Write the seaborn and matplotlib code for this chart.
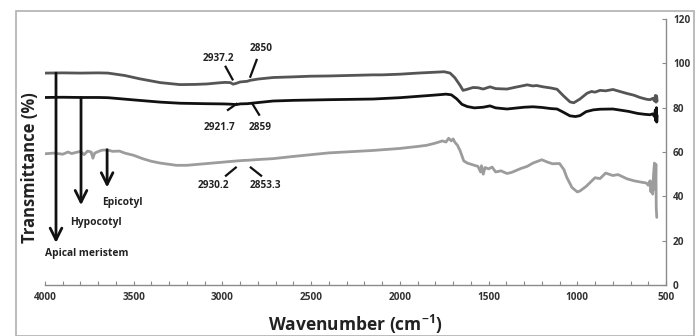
import matplotlib
matplotlib.use("Agg")
import matplotlib.pyplot as plt
import seaborn as sns
import pandas as pd
from matplotlib.patches import Rectangle

# ---------------- data ----------------
apical_wn = [4000, 3900, 3800, 3700, 3645, 3550, 3465, 3350, 3239, 3150, 3087, 3020, 2986, 2955,
             2940, 2925, 2900, 2860, 2845, 2800, 2715, 2600, 2500, 2400, 2300, 2151, 2100, 2000,
             1900, 1800, 1750, 1717, 1690, 1660, 1644, 1620, 1588, 1560, 1530, 1492, 1460, 1396,
             1350, 1300, 1283, 1250, 1230, 1193, 1150, 1114, 1080, 1041, 1020, 985, 945, 920, 900,
             872, 840, 799, 760, 720, 680, 647, 610, 590, 575, 565, 560, 556, 553, 550]
apical_t = [95.6, 95.7, 95.6, 95.7, 95.6, 94.5, 93.0, 91.3, 90.4, 90.5, 90.7, 91.2, 91.4, 91.3,
            90.6, 90.9, 91.6, 91.9, 92.3, 92.9, 93.6, 93.9, 94.2, 94.3, 94.5, 94.8, 94.8, 95.1,
            95.6, 96.0, 96.2, 95.6, 93.5, 90.0, 87.8, 88.3, 89.1, 89.0, 88.4, 89.4, 88.6, 88.4,
            89.2, 90.0, 90.3, 89.8, 90.0, 89.4, 88.9, 88.3, 85.5, 82.6, 82.2, 83.9, 86.5, 87.3, 87.0,
            87.8, 87.6, 88.2, 87.3, 86.4, 85.6, 84.6, 83.8, 83.6, 84.2, 83.0, 85.5, 82.5, 85.3, 83.0]

hypo_wn = [4000, 3900, 3800, 3700, 3645, 3500, 3350, 3239, 3100, 3000, 2960, 2921, 2900, 2859,
           2800, 2715, 2600, 2400, 2151, 2000, 1900, 1800, 1740, 1710, 1680, 1650, 1620, 1580,
           1530, 1492, 1460, 1396, 1300, 1250, 1200, 1150, 1114, 1080, 1041, 1010, 985, 950, 910,
           872, 800, 750, 710, 660, 620, 590, 575, 565, 560, 557, 554, 552, 550]
hypo_t = [84.6, 84.7, 84.6, 84.6, 84.5, 83.5, 82.5, 82.0, 81.8, 81.7, 81.6, 81.4, 81.7, 81.8,
          82.3, 83.0, 83.3, 83.6, 83.9, 84.5, 85.1, 85.7, 86.1, 85.8, 84.0, 81.5, 80.5, 79.9,
          80.2, 80.8, 79.9, 79.4, 80.2, 80.4, 80.1, 79.6, 79.4, 78.0, 76.3, 76.0, 76.4, 78.2, 79.0,
          79.3, 79.4, 78.8, 78.3, 77.4, 77.0, 76.8, 77.2, 76.0, 79.0, 74.0, 80.0, 73.5, 76.5]

epi_wn = [4000, 3950, 3900, 3870, 3850, 3800, 3780, 3760, 3740, 3730, 3720, 3700, 3680, 3650,
          3620, 3580, 3550, 3500, 3450, 3400, 3350, 3260, 3200, 3100, 3000, 2930, 2880, 2850,
          2800, 2715, 2600, 2400, 2151, 2000, 1900, 1850, 1800, 1760, 1740, 1725, 1710, 1700,
          1690, 1675, 1660, 1640, 1620, 1588, 1560, 1545, 1540, 1530, 1520, 1500, 1480, 1460,
          1430, 1396, 1370, 1320, 1283, 1250, 1200, 1170, 1140, 1100, 1075, 1060, 1030, 1000,
          985, 950, 900, 872, 840, 800, 770, 720, 680, 640, 610, 600, 590, 585, 580, 575, 570,
          565, 560, 557, 555, 552]
epi_t = [59.2, 59.5, 59.0, 60.0, 59.3, 60.3, 58.8, 60.4, 60.0, 57.2, 59.5, 60.2, 60.8, 61.0,
         60.3, 60.4, 59.5, 58.5, 57.0, 55.8, 55.0, 54.0, 54.0, 54.7, 55.4, 55.9, 56.2, 56.3,
         56.6, 57.0, 58.0, 59.6, 60.7, 61.6, 62.5, 63.0, 64.0, 65.0, 64.5, 66.2, 65.0, 65.9,
         64.4, 63.0, 60.5, 56.0, 55.0, 54.2, 53.5, 51.0, 53.8, 50.0, 53.0, 52.4, 53.2, 51.0,
         51.5, 50.3, 50.8, 52.5, 53.5, 55.0, 56.5, 55.5, 54.7, 54.8, 52.0, 48.7, 44.0, 42.0,
         42.4, 44.5, 48.4, 48.0, 50.5, 49.4, 49.8, 47.9, 47.0, 46.4, 46.0, 45.0, 47.0, 42.0,
         46.5, 41.0, 50.0, 55.0, 43.0, 54.5, 35.0, 30.5]

x_ticks = [4000, 3500, 3000, 2500, 2000, 1500, 1000, 500]
y_ticks = [0, 20, 40, 60, 80, 100, 120]

# peak labels: (label, text_x, text_y, line x0, y0, x1, y1)
peaks = [
    ("2937.2", 3025, 102.0, 2985, 98.9, 2940, 92.3),
    ("2850",   2783, 106.5, 2805, 102.0, 2845, 93.5),
    ("2921.7", 3014, 71.0, 2974, 78.7, 2915, 82.0),
    ("2859",   2788, 71.0, 2833, 82.0, 2790, 76.4),
    ("2930.2", 3048, 45.0, 2985, 49.0, 2920, 53.3),
    ("2853.3", 2760, 45.0, 2845, 53.3, 2777, 49.0),
]
# tissue arrows: (label, x, y_start, y_end, label_x, label_y)
tissues = [
    ("Apical meristem", 3938, 95.6, 19.0, 4000, 14.4),
    ("Hypocotyl",       3797, 84.6, 36.0, 3859, 28.3),
    ("Epicotyl",        3650, 61.0, 44.0, 3679, 37.3),
]

df = pd.concat([
    pd.DataFrame({"wn": apical_wn, "T": apical_t, "s": "Apical meristem"}),
    pd.DataFrame({"wn": hypo_wn, "T": hypo_t, "s": "Hypocotyl"}),
    pd.DataFrame({"wn": epi_wn, "T": epi_t, "s": "Epicotyl"}),
])

# ---------------- plot ----------------
sns.set_theme(style="white")
plt.rcParams["font.family"] = ["Open Sans", "DejaVu Sans"]
plt.rcParams["mathtext.fontset"] = "custom"
plt.rcParams["mathtext.rm"] = "Open Sans"
plt.rcParams["mathtext.bf"] = "Open Sans:bold"

fig = plt.figure(figsize=(6.99, 3.36), dpi=100)
ax = fig.add_axes([45 / 699, 51 / 336, 621 / 699, 266 / 336])

palette = {"Apical meristem": "#555555", "Hypocotyl": "#111111", "Epicotyl": "#9c9c9c"}
sns.lineplot(data=df, x="wn", y="T", hue="s", palette=palette, ax=ax,
             sort=False, estimator=None, legend=False, linewidth=2.0)

ax.set_xlim(4000, 500)
ax.set_ylim(0, 120)
ax.set_xticks(x_ticks)
ax.set_xticklabels([str(v) for v in x_ticks])
ax.set_xticks(range(500, 4001, 100), minor=True)
ax.set_yticks(y_ticks)
ax.set_yticklabels([str(v) for v in y_ticks])
ax.yaxis.tick_right()

for sp in ["left", "top"]:
    ax.spines[sp].set_visible(False)
for sp in ["bottom", "right"]:
    ax.spines[sp].set_visible(True)
    ax.spines[sp].set_color("#8a8a8a")
    ax.spines[sp].set_linewidth(1.0)

ax.tick_params(axis="x", which="both", direction="in", length=3, width=0.8,
               color="#8a8a8a", bottom=True, labelsize=7.2, pad=5, labelcolor="#333333")
ax.tick_params(axis="y", which="both", direction="in", length=3, width=0.8,
               color="#8a8a8a", right=True, left=False, labelsize=7.2, pad=5,
               labelcolor="#333333")
for lbl in ax.get_xticklabels() + ax.get_yticklabels():
    lbl.set_fontweight("bold")

ax.set_xlabel("")
ax.set_ylabel("")
fig.text(355 / 699, 1 - 324 / 336, "Wavenumber (cm$^{\\mathbf{-1}}$)", ha="center", va="center",
         fontsize=12.5, fontweight="bold", color="#222222")
fig.text(30 / 699, 1 - 168 / 336, "Transmittance (%)", ha="center", va="center",
         rotation=90, fontsize=12, fontweight="bold", color="#222222")

for lab, tx, ty, x0, y0, x1, y1 in peaks:
    ax.plot([x0, x1], [y0, y1], color="#111111", lw=1.6, solid_capstyle="butt")
    ax.text(tx, ty, lab, ha="center", va="center", fontsize=7.2, fontweight="bold",
            color="#222222")

for lab, x, ys, ye, lx, ly in tissues:
    ax.annotate("", xy=(x, ye), xytext=(x, ys),
                arrowprops=dict(arrowstyle="->,head_length=0.7,head_width=0.35",
                                color="#111111", lw=2.0, shrinkA=0, shrinkB=0))
    ax.text(lx, ly, lab, ha="left", va="center", fontsize=7.4, fontweight="bold",
            color="#222222")

fig.add_artist(Rectangle((16 / 699, 0), 678 / 699, 1 - 11 / 336, transform=fig.transFigure,
                         fill=False, edgecolor="#b0b0b0", lw=1.2))

fig.savefig("out.png", dpi=100)
